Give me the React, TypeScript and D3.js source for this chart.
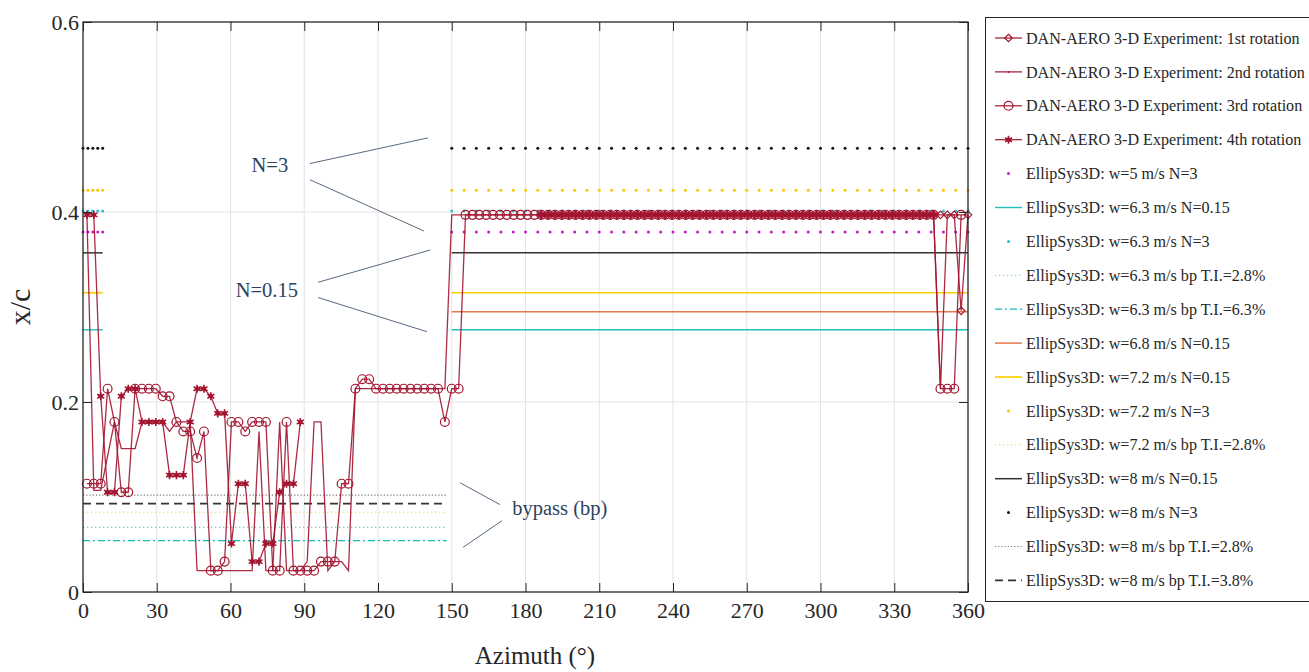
import React, { useEffect, useRef } from 'react';
import * as d3 from 'd3';

const _ = null;

// azimuth of the experiment samples (deg)
const AZIMUTH = [
  1.6, 4.4, 7.2, 10, 12.8, 15.6, 18.4, 21.2, 24, 26.8,
  29.6, 32.4, 35.2, 38, 40.8, 43.6, 46.4, 49.2, 52, 54.8,
  57.6, 60.4, 63.2, 66, 68.8, 71.6, 74.4, 77.2, 80, 82.8,
  85.6, 88.4, 91.2, 94, 96.8, 99.6, 102.4, 105.2, 108, 110.8,
  113.6, 116.4, 119.2, 122, 124.8, 127.6, 130.4, 133.2, 136, 138.8,
  141.6, 144.4, 147.2, 150, 152.8, 155.6, 158.4, 161.2, 164, 166.8,
  169.6, 172.4, 175.2, 178, 180.8, 183.6, 186.4, 189.2, 192, 194.8,
  197.6, 200.4, 203.2, 206, 208.8, 211.6, 214.4, 217.2, 220, 222.8,
  225.6, 228.4, 231.2, 234, 236.8, 239.6, 242.4, 245.2, 248, 250.8,
  253.6, 256.4, 259.2, 262, 264.8, 267.6, 270.4, 273.2, 276, 278.8,
  281.6, 284.4, 287.2, 290, 292.8, 295.6, 298.4, 301.2, 304, 306.8,
  309.6, 312.4, 315.2, 318, 320.8, 323.6, 326.4, 329.2, 332, 334.8,
  337.6, 340.4, 343.2, 346, 348.8, 351.6, 354.4, 357.2, 360,
];

// transition location x/c, one value per azimuth sample
const ROT1 = [
  _, _, _, _, _, _, _, _, _, _,
  _, _, _, _, _, _, _, _, _, _,
  _, _, _, _, _, _, _, _, _, _,
  _, _, _, _, _, _, _, _, _, _,
  _, _, _, _, _, _, _, _, _, _,
  _, _, _, _, _, _, _, _, _, _,
  _, _, _, _, _, _, 0.397, 0.397, 0.397, 0.397,
  0.397, 0.397, 0.397, 0.397, 0.397, 0.397, 0.397, 0.397, 0.397, 0.397,
  0.397, 0.397, 0.397, 0.397, 0.397, 0.397, 0.397, 0.397, 0.397, 0.397,
  0.397, 0.397, 0.397, 0.397, 0.397, 0.397, 0.397, 0.397, 0.397, 0.397,
  0.397, 0.397, 0.397, 0.397, 0.397, 0.397, 0.397, 0.397, 0.397, 0.397,
  0.397, 0.397, 0.397, 0.397, 0.397, 0.397, 0.397, 0.397, 0.397, 0.397,
  0.397, 0.397, 0.397, 0.397, 0.397, 0.397, 0.397, 0.296, 0.397,
];

const ROT2 = [
  0.397, 0.107, 0.107, 0.143, 0.179, 0.151, 0.151, 0.151, 0.179, 0.179,
  0.179, 0.179, 0.169, 0.179, 0.179, 0.179, 0.0225, 0.0225, 0.0225, 0.0225,
  0.0225, 0.0225, 0.0225, 0.0225, 0.0225, 0.169, 0.0225, 0.0225, 0.179, 0.0225,
  0.0225, 0.0225, 0.032, 0.179, 0.179, 0.0225, 0.032, 0.032, 0.0225, 0.214,
  0.214, 0.214, 0.214, 0.214, 0.214, 0.214, 0.214, 0.214, 0.214, 0.214,
  0.214, 0.214, 0.214, 0.397, 0.397, 0.397, 0.397, 0.397, 0.397, 0.397,
  0.397, 0.397, 0.397, 0.397, 0.397, 0.397, 0.397, 0.397, 0.397, 0.397,
  0.397, 0.397, 0.397, 0.397, 0.397, 0.397, 0.397, 0.397, 0.397, 0.397,
  0.397, 0.397, 0.397, 0.397, 0.397, 0.397, 0.397, 0.397, 0.397, 0.397,
  0.397, 0.397, 0.397, 0.397, 0.397, 0.397, 0.397, 0.397, 0.397, 0.397,
  0.397, 0.397, 0.397, 0.397, 0.397, 0.397, 0.397, 0.397, 0.397, 0.397,
  0.397, 0.397, 0.397, 0.397, 0.397, 0.397, 0.397, 0.397, 0.397, 0.397,
  0.397, 0.397, 0.397, 0.397, 0.214, 0.397, 0.397, 0.397, 0.397,
];

const ROT3 = [
  0.114, 0.114, 0.114, 0.214, 0.179, 0.105, 0.105, 0.214, 0.214, 0.214,
  0.214, 0.206, 0.206, 0.179, 0.169, 0.169, 0.141, 0.169, 0.0225, 0.0225,
  0.032, 0.179, 0.179, 0.169, 0.179, 0.179, 0.179, 0.0225, 0.0225, 0.179,
  0.0225, 0.0225, 0.0225, 0.0225, 0.032, 0.032, 0.032, 0.114, 0.114, 0.214,
  0.224, 0.224, 0.214, 0.214, 0.214, 0.214, 0.214, 0.214, 0.214, 0.214,
  0.214, 0.214, 0.179, 0.214, 0.214, 0.397, 0.397, 0.397, 0.397, 0.397,
  0.397, 0.397, 0.397, 0.397, 0.397, 0.397, 0.397, 0.397, 0.397, 0.397,
  0.397, 0.397, 0.397, 0.397, 0.397, 0.397, 0.397, 0.397, 0.397, 0.397,
  0.397, 0.397, 0.397, 0.397, 0.397, 0.397, 0.397, 0.397, 0.397, 0.397,
  0.397, 0.397, 0.397, 0.397, 0.397, 0.397, 0.397, 0.397, 0.397, 0.397,
  0.397, 0.397, 0.397, 0.397, 0.397, 0.397, 0.397, 0.397, 0.397, 0.397,
  0.397, 0.397, 0.397, 0.397, 0.397, 0.397, 0.397, 0.397, 0.397, 0.397,
  0.397, 0.397, 0.397, 0.397, 0.214, 0.214, 0.214, 0.397, _,
];

const ROT4 = [
  0.397, 0.397, 0.206, 0.105, 0.105, 0.206, 0.214, 0.214, 0.179, 0.179,
  0.179, 0.179, 0.123, 0.123, 0.123, 0.179, 0.214, 0.214, 0.206, 0.188,
  0.188, 0.051, 0.114, 0.114, 0.032, 0.032, 0.051, 0.051, 0.105, 0.114,
  0.114, 0.179, _, _, _, _, _, _, _, _,
  _, _, _, _, _, _, _, _, _, _,
  _, _, _, _, _, _, _, _, _, _,
  _, _, _, _, _, _, 0.397, 0.397, 0.397, 0.397,
  0.397, 0.397, 0.397, 0.397, 0.397, 0.397, 0.397, 0.397, 0.397, 0.397,
  0.397, 0.397, 0.397, 0.397, 0.397, 0.397, 0.397, 0.397, 0.397, 0.397,
  0.397, 0.397, 0.397, 0.397, 0.397, 0.397, 0.397, 0.397, 0.397, 0.397,
  0.397, 0.397, 0.397, 0.397, 0.397, 0.397, 0.397, 0.397, 0.397, 0.397,
  0.397, 0.397, 0.397, 0.397, 0.397, 0.397, 0.397, 0.397, 0.397, 0.397,
  0.397, 0.397, 0.397, 0.397, _, _, _, _, _,
];

const EXP_LABELS = [
  'DAN-AERO 3-D Experiment: 1st rotation',
  'DAN-AERO 3-D Experiment: 2nd rotation',
  'DAN-AERO 3-D Experiment: 3rd rotation',
  'DAN-AERO 3-D Experiment: 4th rotation',
];

// EllipSys3D cases, in legend order
const CASE_LABELS = [
  'EllipSys3D: w=5 m/s N=3',
  'EllipSys3D: w=6.3 m/s N=0.15',
  'EllipSys3D: w=6.3 m/s N=3',
  'EllipSys3D: w=6.3 m/s bp T.I.=2.8%',
  'EllipSys3D: w=6.3 m/s bp T.I.=6.3%',
  'EllipSys3D: w=6.8 m/s N=0.15',
  'EllipSys3D: w=7.2 m/s N=0.15',
  'EllipSys3D: w=7.2 m/s N=3',
  'EllipSys3D: w=7.2 m/s bp T.I.=2.8%',
  'EllipSys3D: w=8 m/s N=0.15',
  'EllipSys3D: w=8 m/s N=3',
  'EllipSys3D: w=8 m/s bp T.I.=2.8%',
  'EllipSys3D: w=8 m/s bp T.I.=3.8%',
];
const CASE_XC = [0.379, 0.276, 0.401, 0.068, 0.054, 0.295, 0.315, 0.423, 0.084, 0.357, 0.467, 0.102, 0.093];
const CASE_KIND = ['n3', 'n015', 'n3', 'bp', 'bp', 'n015r', 'n015', 'n3', 'bp', 'n015', 'n3', 'bp', 'bp'];

const N3_AZ = [
  0, 2, 4, 6, 8,
  150, 155, 160, 165, 170, 175, 180, 185, 190, 195, 200, 205, 210, 215, 220,
  225, 230, 235, 240, 245, 250, 255, 260, 265, 270, 275, 280, 285, 290, 295,
  300, 305, 310, 315, 320, 325, 330, 335, 340, 345, 350, 355, 360,
];
const N015_SPANS = [[0, 8], [150, 360]];
const N015_RIGHT_SPANS = [[150, 360]];
const BP_SPANS = [[0, 148]];

const X_TICKS = [0, 30, 60, 90, 120, 150, 180, 210, 240, 270, 300, 330, 360];
const Y_TICKS = [0, 0.2, 0.4, 0.6];

const CRIMSON = '#a2142f';
const NAVY = '#2b4260';
const SERIF = '"Liberation Serif", "Times New Roman", serif';

const CASE_STYLE = [
  { color: '#c819c8', dash: null, width: 1 },
  { color: '#22bfc0', dash: null, width: 1.4 },
  { color: '#2ec0c0', dash: null, width: 1 },
  { color: '#66d3d3', dash: '1.3 2.7', width: 1.1 },
  { color: '#10bcbc', dash: '7 3 2 3', width: 1.3 },
  { color: '#e3784f', dash: null, width: 1.5 },
  { color: '#fcd000', dash: null, width: 1.7 },
  { color: '#f5c800', dash: null, width: 1 },
  { color: '#f7d52a', dash: '1.3 2.7', width: 1.1 },
  { color: '#333333', dash: null, width: 1.5 },
  { color: '#111111', dash: null, width: 1 },
  { color: '#777777', dash: '1.2 2', width: 1.1 },
  { color: '#333333', dash: '8 5', width: 1.6 },
];

export default function App() {
  const svgRef = useRef<SVGSVGElement>(null);

  useEffect(() => {
    const svg = d3.select(svgRef.current);
    svg.selectAll('*').remove();

    const left = 83, right = 968, top = 22, bottom = 592;
    const x = d3.scaleLinear().domain([0, 360]).range([left, right]);
    const y = d3.scaleLinear().domain([0, 0.6]).range([bottom, top]);

    svg.append('rect').attr('width', 1309).attr('height', 672).attr('fill', '#fff');

    // grid
    const grid = svg.append('g').attr('stroke', '#e3e3e3').attr('stroke-width', 1);
    X_TICKS.slice(1, -1).forEach(t => {
      grid.append('line').attr('x1', x(t)).attr('x2', x(t)).attr('y1', top).attr('y2', bottom);
    });
    Y_TICKS.slice(1, -1).forEach(t => {
      grid.append('line').attr('x1', left).attr('x2', right).attr('y1', y(t)).attr('y2', y(t));
    });

    // EllipSys3D results
    const sim = svg.append('g');
    CASE_KIND.forEach((kind, i) => {
      const st = CASE_STYLE[i];
      const v = CASE_XC[i];
      if (kind === 'n3') {
        sim.append('g').selectAll('circle')
          .data(N3_AZ)
          .enter()
          .append('circle')
          .attr('cx', d => x(d))
          .attr('cy', y(v))
          .attr('r', 1.5)
          .attr('fill', st.color);
      } else {
        const spans = kind === 'n015' ? N015_SPANS : kind === 'n015r' ? N015_RIGHT_SPANS : BP_SPANS;
        spans.forEach(([a, b]) => {
          sim.append('line')
            .attr('x1', x(a)).attr('x2', x(b))
            .attr('y1', y(v)).attr('y2', y(v))
            .attr('stroke', st.color)
            .attr('stroke-width', st.width)
            .attr('stroke-dasharray', st.dash);
        });
      }
    });

    // experiment
    const line = d3.line<any>()
      .defined(d => d[1] != null)
      .x(d => x(d[0]))
      .y(d => y(d[1]));

    const circleSym = d3.symbol().type(d3.symbolCircle).size(62);
    const diamondSym = d3.symbol().type(d3.symbolDiamond2).size(36);
    const starSym = d3.symbol().type(d3.symbolAsterisk).size(46);

    const drawMarker = (g, idx, px, py) => {
      if (idx === 0) {
        g.append('path').attr('transform', `translate(${px},${py})`).attr('d', diamondSym())
          .attr('fill', 'none').attr('stroke', CRIMSON).attr('stroke-width', 1.2);
      } else if (idx === 2) {
        g.append('path').attr('transform', `translate(${px},${py})`).attr('d', circleSym())
          .attr('fill', 'none').attr('stroke', CRIMSON).attr('stroke-width', 1.2);
      } else if (idx === 3) {
        g.append('path').attr('transform', `translate(${px},${py})`).attr('d', starSym())
          .attr('fill', 'none').attr('stroke', CRIMSON).attr('stroke-width', 1.6);
        g.append('circle').attr('cx', px).attr('cy', py).attr('r', 2.3).attr('fill', CRIMSON);
      }
    };

    const exp = svg.append('g');
    [ROT1, ROT2, ROT3, ROT4].forEach((vals, idx) => {
      const pts = AZIMUTH.map((a, i) => [a, vals[i]]);
      exp.append('path')
        .datum(pts)
        .attr('fill', 'none')
        .attr('stroke', CRIMSON)
        .attr('stroke-width', 1.3)
        .attr('stroke-opacity', 0.9)
        .attr('d', line);
      const mg = exp.append('g');
      pts.filter(p => p[1] != null).forEach(p => drawMarker(mg, idx, x(p[0]), y(p[1])));
    });

    // annotations
    const ann = svg.append('g').attr('stroke', NAVY).attr('stroke-width', 0.8);
    const annLines = [
      [92.3, 0.451, 140.3, 0.478],
      [92.3, 0.434, 138.7, 0.380],
      [95.6, 0.326, 141.2, 0.360],
      [95.6, 0.310, 139.9, 0.274],
      [153.4, 0.115, 169.6, 0.092],
      [154.6, 0.047, 170.4, 0.075],
    ];
    annLines.forEach(([a1, v1, a2, v2]) => {
      ann.append('line').attr('x1', x(a1)).attr('y1', y(v1)).attr('x2', x(a2)).attr('y2', y(v2));
    });
    const annText = svg.append('g')
      .attr('font-family', SERIF).attr('font-size', 20.5).attr('fill', NAVY);
    annText.append('text').attr('x', x(76)).attr('y', y(0.450)).attr('dy', '0.35em')
      .attr('text-anchor', 'middle').text('N=3');
    annText.append('text').attr('x', x(74.8)).attr('y', y(0.318)).attr('dy', '0.35em')
      .attr('text-anchor', 'middle').text('N=0.15');
    annText.append('text').attr('x', x(174.6)).attr('y', y(0.0886)).attr('dy', '0.35em')
      .text('bypass (bp)');

    // axes
    const fmt = d3.format('~g');
    const xAxis = svg.append('g')
      .attr('transform', `translate(0,${bottom})`)
      .call(d3.axisBottom(x).tickValues(X_TICKS).tickSize(-9).tickPadding(10).tickFormat(d => fmt(d)));
    svg.append('g')
      .attr('transform', `translate(0,${top})`)
      .call(d3.axisTop(x).tickValues(X_TICKS).tickSize(-9).tickFormat(() => ''));
    const yAxis = svg.append('g')
      .attr('transform', `translate(${left},0)`)
      .call(d3.axisLeft(y).tickValues(Y_TICKS).tickSize(-9).tickPadding(4).tickFormat(d => fmt(d)));
    svg.append('g')
      .attr('transform', `translate(${right},0)`)
      .call(d3.axisRight(y).tickValues(Y_TICKS).tickSize(-9).tickFormat(() => ''));

    svg.selectAll('.domain').remove();
    svg.selectAll('.tick line').attr('stroke', '#262626').attr('stroke-width', 1);
    [xAxis, yAxis].forEach(g => g.selectAll('.tick text')
      .attr('font-family', SERIF).attr('font-size', 22).attr('fill', '#262626'));

    svg.append('rect')
      .attr('x', left).attr('y', top)
      .attr('width', right - left).attr('height', bottom - top)
      .attr('fill', 'none').attr('stroke', '#262626').attr('stroke-width', 1.3);

    svg.append('text')
      .attr('transform', `translate(30,307) rotate(-90)`)
      .attr('text-anchor', 'middle')
      .attr('font-family', SERIF).attr('font-size', 30).attr('fill', '#262626')
      .text('x/c');
    svg.append('text')
      .attr('x', 535).attr('y', 664)
      .attr('text-anchor', 'middle')
      .attr('font-family', SERIF).attr('font-size', 25).attr('fill', '#262626')
      .text('Azimuth (°)');

    // legend
    const lg = svg.append('g');
    lg.append('rect')
      .attr('x', 985.5).attr('y', 17.5).attr('width', 340).attr('height', 584)
      .attr('fill', '#fff').attr('stroke', '#262626').attr('stroke-width', 1);
    const rowY = i => 38 + i * 33.9;
    const x0 = 995, x1 = 1022, xm = 1008.5;
    EXP_LABELS.forEach((label, i) => {
      const yy = rowY(i);
      lg.append('line').attr('x1', x0).attr('x2', x1).attr('y1', yy).attr('y2', yy)
        .attr('stroke', CRIMSON).attr('stroke-width', 1.2);
      if (i === 1) lg.append('circle').attr('cx', xm).attr('cy', yy).attr('r', 1).attr('fill', CRIMSON);
      drawMarker(lg, i, xm, yy);
    });
    CASE_LABELS.forEach((label, i) => {
      const yy = rowY(i + EXP_LABELS.length);
      const st = CASE_STYLE[i];
      if (CASE_KIND[i] === 'n3') {
        lg.append('circle').attr('cx', xm).attr('cy', yy).attr('r', 1.5).attr('fill', st.color);
      } else {
        lg.append('line').attr('x1', x0).attr('x2', x1).attr('y1', yy).attr('y2', yy)
          .attr('stroke', st.color).attr('stroke-width', st.width).attr('stroke-dasharray', st.dash);
      }
    });
    lg.selectAll('text.lbl')
      .data([...EXP_LABELS, ...CASE_LABELS])
      .enter()
      .append('text')
      .attr('class', 'lbl')
      .attr('x', 1026)
      .attr('y', (d, i) => rowY(i))
      .attr('dy', '0.35em')
      .attr('font-family', SERIF)
      .attr('font-size', 16.1)
      .attr('fill', '#262626')
      .text(d => d);
  }, []);

  return (
    <svg
      ref={svgRef}
      width={1309}
      height={672}
      style={{ position: 'absolute', left: 0, top: 0 }}
    />
  );
}
